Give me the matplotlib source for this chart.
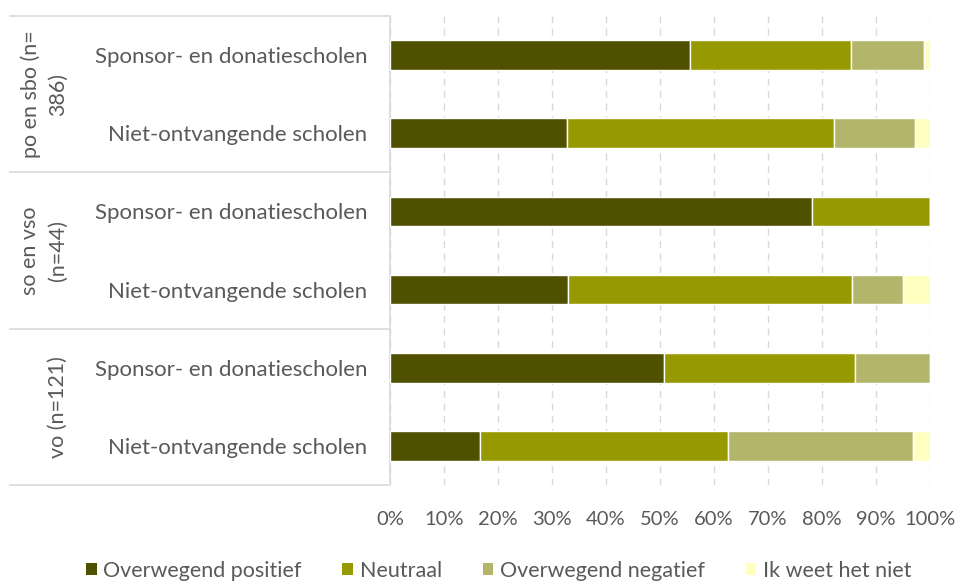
import matplotlib
matplotlib.use("Agg")
import matplotlib.pyplot as plt
import matplotlib.transforms as mtransforms
from matplotlib.patches import Patch
import numpy as np

plt.rcParams['font.family'] = ['Lato', 'DejaVu Sans']

categories = ["Sponsor- en donatiescholen", "Niet-ontvangende scholen",
              "Sponsor- en donatiescholen", "Niet-ontvangende scholen",
              "Sponsor- en donatiescholen", "Niet-ontvangende scholen"]
groups = ["po en sbo (n=\n386)", "so en vso\n(n=44)", "vo (n=121)"]
series = ["Overwegend positief", "Neutraal", "Overwegend negatief", "Ik weet het niet"]
positief = [55.5, 32.7, 78.1, 33.0, 50.7, 16.7]
neutraal = [29.8, 49.6, 21.9, 52.5, 35.4, 45.9]
negatief = [13.5, 14.9, 0.0, 9.5, 13.9, 34.3]
weet_niet = [1.2, 2.8, 0.0, 5.0, 0.0, 3.1]
ticks = [0, 10, 20, 30, 40, 50, 60, 70, 80, 90, 100]
tick_labels = ["0%", "10%", "20%", "30%", "40%", "50%", "60%", "70%", "80%", "90%", "100%"]

colors = ["#4F5000", "#969A00", "#B3B56A", "#FFFFC0"]
text_color = "#595959"
grid_color = "#D9D9D9"

W, H = 958, 581
fig = plt.figure(figsize=(W / 100, H / 100), dpi=100)
ax = fig.add_axes([390 / W, 1 - 485 / H, (930 - 390) / W, (485 - 16) / H])

y = np.arange(len(categories))
left = np.zeros(len(categories))
for vals, col, name in zip([positief, neutraal, negatief, weet_niet], colors, series):
    vals = np.array(vals)
    ax.barh(y, vals, left=left, height=0.38, color=col, edgecolor="white",
            linewidth=1, label=name, zorder=3)
    left += vals

ax.set_xlim(0, 100)
ax.set_ylim(5.5, -0.5)
ax.set_xticks(ticks)
ax.set_xticklabels(tick_labels)
ax.set_yticks(y)
ax.set_yticklabels(categories)
ax.tick_params(axis='x', length=0, pad=18.5, labelsize=14.5, labelcolor=text_color)
ax.tick_params(axis='y', length=0, pad=16.5, labelsize=16, labelcolor=text_color)
ax.xaxis.grid(True, color=grid_color, linestyle=(0, (5, 4)), linewidth=1, zorder=0)
for s in ["top", "right", "bottom"]:
    ax.spines[s].set_visible(False)
ax.spines["left"].set_color(grid_color)
ax.spines["left"].set_linewidth(1.2)

# group separators and labels
trans = mtransforms.blended_transform_factory(fig.transFigure, ax.transData)
for yy in [-0.5, 1.5, 3.5, 5.5]:
    ax.plot([10 / W, 388 / W], [yy, yy], transform=trans, color=grid_color,
            linewidth=1.2, clip_on=False)
group_x = [44 / W, 44 / W, 58 / W]
for i, (g, gx) in enumerate(zip(groups, group_x)):
    ax.text(gx, 2 * i + 0.5, g, transform=trans, rotation=90, ha="center",
            va="center", multialignment="center", fontsize=15.5, color=text_color,
            linespacing=1.45)

handles = [Patch(facecolor=c, edgecolor="none") for c in colors]
fig.legend(handles, series, loc="center", bbox_to_anchor=(0.5204, 1 - 571 / H),
           ncol=4, frameon=False, fontsize=15.5, labelcolor=text_color,
           handlelength=0.5, handleheight=0.5, handletextpad=0.3,
           columnspacing=1.9)

fig.savefig("out.png", dpi=100)
